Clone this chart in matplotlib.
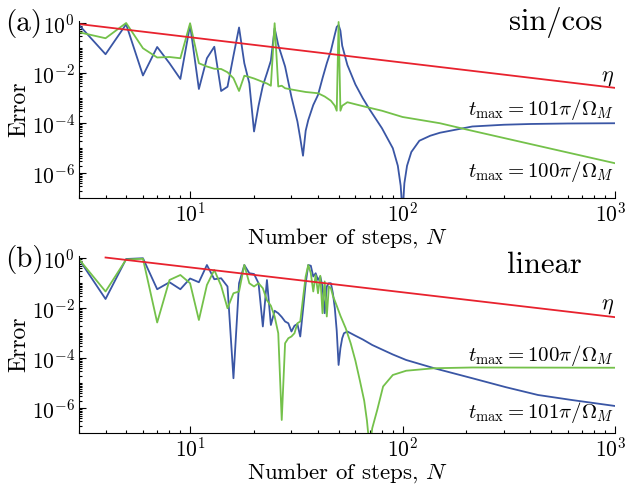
import numpy as np
import matplotlib
matplotlib.use("Agg")
import matplotlib.pyplot as plt
from matplotlib.ticker import FixedLocator, LogLocator, NullFormatter
from matplotlib.transforms import ScaledTranslation

plt.rcParams['font.family'] = 'serif'
plt.rcParams['font.serif'] = ['cmr10']
plt.rcParams['mathtext.fontset'] = 'cm'
plt.rcParams['axes.formatter.use_mathtext'] = True

# ---------------- data (log10 of error) ----------------
# panel (a): sin/cos
a_blue_N = [3, 4, 5, 6, 7, 8, 9, 10, 11, 12, 13, 14, 15, 16, 17, 18, 19, 20, 21, 22, 23, 24, 25,
            26, 28, 30, 32, 33, 34, 35, 36, 38, 40, 42, 44, 46, 48, 49, 50, 51, 52, 55, 60, 65,
            70, 80, 90, 95, 98, 100, 102, 105, 110, 120, 135, 150, 213, 300, 400, 600, 1000]
a_blue_exp = [-0.07, -1.24, -0.04, -2.09, -0.95, -1.6, -2.23, -0.07, -2.63, -1.4, -0.94, -2.71,
              -2.54, -1.3, -0.17, -1.6, -2.4, -4.33, -3.3, -2.5, -2.0, -1.5, -0.2,
              -0.87, -1.73, -2.95, -3.93, -4.6, -5.3, -4.3, -3.87, -3.27, -2.87, -2.2, -1.6,
              -1.1, -0.45, -0.15, -0.07, -0.3, -0.9, -1.67, -2.45, -3.0,
              -3.45, -4.2, -5.0, -5.7, -6.5, -7.6, -6.4, -5.7, -5.15, -4.7, -4.5, -4.38,
              -4.13, -4.06, -4.03, -4.01, -4.0]
a_green_N = [3, 4, 5, 6, 7, 8, 9, 10, 11, 12, 13, 14, 15, 16, 17, 18, 19, 20, 21, 22, 23, 24, 25,
             26, 27, 28, 30, 35, 40, 43, 46, 48, 49, 50, 51, 52, 55, 66, 80, 100, 150, 200,
             500, 1000]
a_green_exp = [-0.36, -0.6, 0.01, -1.0, -1.37, -1.35, -1.4, 0.0, -1.6, -1.73, -1.82, -1.83,
               -1.96, -2.2, -2.71, -2.1, -2.15, -2.21, -2.28, -2.35, -2.41, -2.5, 0.0,
               -2.53, -2.5, -2.6, -2.65, -2.75, -2.8, -2.93, -3.1, -3.3, -3.5, 0.05, -3.5,
               -3.3, -3.16, -3.33, -3.5, -3.75, -4.0, -4.25, -5.02, -5.6]
a_eta_N = [3, 1000]
a_eta = [0.93, 0.0026]

# panel (b): linear
b_blue_N = [3, 4, 5, 6, 7, 8, 9, 10, 11, 12, 13, 14, 15, 16, 17, 18, 19, 20, 21, 22, 23, 24,
            25, 26, 27, 28, 29, 30, 31, 32, 33, 34, 35, 36, 37, 38, 39, 40, 41, 42, 43, 44, 45,
            46, 47, 48, 49, 50, 51, 52, 53, 55, 60, 65, 72, 80, 90, 104, 141, 213, 307, 434,
            625, 1000]
b_blue_exp = [-0.04, -1.63, -0.03, 0.0, -1.24, -0.96, -1.24, -0.81, -0.96, -0.27, -0.84, -0.8,
              -1.13, -4.8, -1.0, -0.27, -0.6, -0.63, -1.0, -2.73, -0.87, -2.67,
              -2.1, -2.2, -2.35, -2.53, -2.6, -2.93, -2.7, -2.63, -3.13, -2.07, -1.0, -0.27,
              -0.3, -0.73, -0.6, -0.87, -0.73, -1.13, -2.2, -1.13, -1.0,
              -1.0, -1.4, -2.0, -2.9, -4.27, -3.6, -3.2, -3.0, -2.93, -3.1, -3.25, -3.47,
              -3.65, -3.85, -4.07, -4.4, -4.8, -5.16, -5.47, -5.67, -5.91]
b_green_N = [3, 4, 5, 6, 7, 8, 9, 10, 11, 12, 13, 14, 15, 16, 17, 18, 19, 20, 21, 22, 23, 24,
             25, 26, 27, 28, 29, 30, 31, 32, 33, 34, 35, 36, 37, 38, 39, 40, 41, 42, 43, 44,
             45, 46, 47, 49, 51, 54, 57, 60, 63, 66, 68, 70, 72, 76, 81, 90, 104, 141, 213,
             1000]
b_green_exp = [-0.04, -1.33, -0.05, -0.02, -2.57, -0.87, -0.67, -1.0, -2.47, -1.07, -0.47, -1.1,
               -2.0, -1.4, -1.33, -0.27, -1.0, -1.13, -1.0, -1.2, -1.68, -1.9,
               -2.33, -3.0, -6.47, -3.4, -3.2, -3.13, -3.0, -2.6, -2.53, -1.6, -0.73, -0.27,
               -0.6, -1.33, -0.67, -1.4, -0.7, -2.2, -0.93, -2.33,
               -1.13, -1.2, -1.5, -1.9, -2.3, -2.8, -3.4, -4.1, -4.9, -5.7, -6.5, -7.6, -6.8,
               -6.07, -5.13, -4.67, -4.5, -4.4, -4.37, -4.38]
b_eta_N = [4, 1000]
b_eta = [1.07, 0.0044]

y_major = [1e-6, 1e-4, 1e-2, 1e0]
x_major = [1e1, 1e2, 1e3]

BLUE = '#3a56a5'
GREEN = '#74c14a'
RED = '#e8222e'

W, H = 629, 486
fig = plt.figure(figsize=(W / 100, H / 100), dpi=100)


def px_axes(left, right, top, bottom):
    return fig.add_axes([left / W, 1 - bottom / H, (right - left) / W, (bottom - top) / H])


def style(ax):
    ax.set_xscale('log')
    ax.set_yscale('log')
    ax.set_xlim(3, 1000)
    ax.set_ylim(1.05e-7, 1.23)
    ax.spines['top'].set_visible(False)
    ax.spines['right'].set_visible(False)
    ax.yaxis.set_major_locator(FixedLocator(y_major))
    ax.yaxis.set_minor_locator(LogLocator(base=10, subs=np.arange(1, 10), numticks=30))
    ax.yaxis.set_minor_formatter(NullFormatter())
    ax.xaxis.set_major_locator(FixedLocator(x_major))
    ax.xaxis.set_minor_locator(LogLocator(base=10, subs=np.arange(2, 10), numticks=30))
    ax.xaxis.set_minor_formatter(NullFormatter())
    ax.tick_params(which='both', direction='in', labelsize=15.5, width=0.8)
    ax.tick_params(which='major', length=5, pad=3)
    ax.tick_params(which='minor', length=2.5)
    ax.set_xlabel(r'Number of steps, $N$', fontsize=16.5, labelpad=0)
    ax.set_ylabel('Error', fontsize=17, labelpad=1)


lw = 1.3
# panel (a)
ax1 = px_axes(79, 615, 21, 197.7)
style(ax1)
ax1.plot(a_blue_N, 10.0 ** np.array(a_blue_exp), color=BLUE, lw=lw)
ax1.plot(a_green_N, 10.0 ** np.array(a_green_exp), color=GREEN, lw=lw)
ax1.plot(a_eta_N, a_eta, color=RED, lw=lw)

# panel (b)
ax2 = px_axes(79, 615, 256, 432.7)
style(ax2)
ax2.plot(b_blue_N, 10.0 ** np.array(b_blue_exp), color=BLUE, lw=lw)
ax2.plot(b_green_N, 10.0 ** np.array(b_green_exp), color=GREEN, lw=lw)
ax2.plot(b_eta_N, b_eta, color=RED, lw=lw)


def ftext(x, y, s, **kw):
    fig.text(x / W, 1 - y / H, s, **kw)


ftext(5, 24, '(a)', fontsize=21, va='center', ha='left')
ftext(5, 260, '(b)', fontsize=21, va='center', ha='left')
ftext(602, 30, 'sin/cos', fontsize=22, ha='right', va='baseline')
ftext(582, 273, 'linear', fontsize=22, ha='right', va='baseline')

ftext(614, 78, r'$\eta$', fontsize=16, ha='right', va='center')
ftext(614, 110, r'$t_{\max} = 101\pi/\Omega_M$', fontsize=15, ha='right', va='center')
ftext(614, 171, r'$t_{\max} = 100\pi/\Omega_M$', fontsize=15, ha='right', va='center')
ftext(614, 306, r'$\eta$', fontsize=16, ha='right', va='center')
ftext(614, 356, r'$t_{\max} = 100\pi/\Omega_M$', fontsize=15, ha='right', va='center')
ftext(614, 412, r'$t_{\max} = 101\pi/\Omega_M$', fontsize=15, ha='right', va='center')

fig.canvas.draw()
for ax in (ax1, ax2):
    lab = ax.get_xticklabels()[-1]
    lab.set_transform(lab.get_transform() + ScaledTranslation(-4 / 100, 0, fig.dpi_scale_trans))

fig.savefig('out.png', dpi=100)
